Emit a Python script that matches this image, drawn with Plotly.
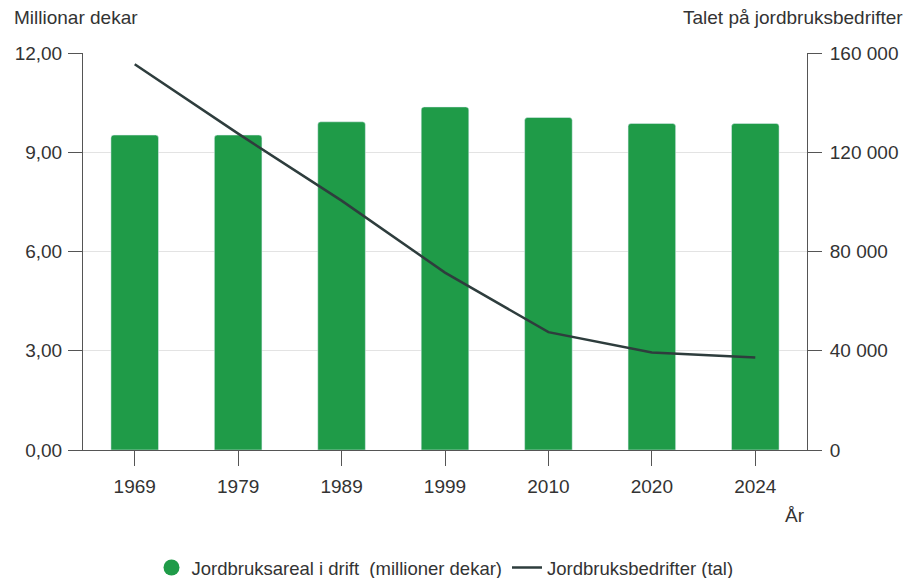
import plotly.graph_objects as go

years = ["1969", "1979", "1989", "1999", "2010", "2020", "2024"]
areal = [9.52, 9.52, 9.92, 10.37, 10.05, 9.87, 9.87]
bedrifter = [155500, 127500, 100500, 71500, 47500, 39300, 37300]

left_ticks = [0, 3, 6, 9, 12]
left_labels = ["0,00", "3,00", "6,00", "9,00", "12,00"]
right_ticks = [0, 40000, 80000, 120000, 160000]
right_labels = ["0", "40 000", "80 000", "120 000", "160 000"]

green = "#1f9b48"
dark = "#2e3d3d"
txt = "#333333"
font = "Liberation Sans, Arial, sans-serif"

fig = go.Figure()
fig.add_trace(go.Bar(x=years, y=areal, marker_color=green, showlegend=False,
                     name="Jordbruksareal i drift  (millioner dekar)"))
fig.add_trace(go.Scatter(x=[None], y=[None], mode="markers",
                         marker=dict(symbol="circle", size=18, color=green),
                         name="Jordbruksareal i drift  (millioner dekar)"))
fig.add_trace(go.Scatter(x=years, y=bedrifter, mode="lines", yaxis="y2",
                         line=dict(color=dark, width=2.5),
                         name="Jordbruksbedrifter (tal)"))

PW, PH = 724, 397

fig.update_layout(
    width=915, height=578,
    margin=dict(l=75, r=116, t=45, b=136, autoexpand=False),
    plot_bgcolor="white", paper_bgcolor="white",
    font=dict(family=font, size=19, color=txt),
    bargap=0.54, barcornerradius=3,
    xaxis=dict(type="category", showgrid=False, ticks="outside", ticklen=15,
               tickcolor="#555", showline=True, linecolor="#555", linewidth=1,
               ticklabelstandoff=4,
               tickfont=dict(size=19, color=txt)),
    yaxis=dict(range=[0, 12], tickvals=left_ticks, ticktext=left_labels,
               showgrid=True, gridcolor="#e3e3e3", gridwidth=1,
               showline=True, linecolor="#555", linewidth=1,
               ticks="outside", ticklen=14, tickcolor="#555", zeroline=False,
               ticklabelstandoff=2,
               tickfont=dict(size=19, color=txt)),
    yaxis2=dict(range=[0, 160000], tickvals=right_ticks, ticktext=right_labels,
                overlaying="y", side="right", showgrid=False,
                showline=True, linecolor="#555", linewidth=1,
                ticks="outside", ticklen=14, tickcolor="#555", zeroline=False,
                ticklabelstandoff=4,
                tickfont=dict(size=19, color=txt)),
    legend=dict(orientation="h", x=0.5, xanchor="center", yref="container",
                y=18 / 578, yanchor="middle",
                font=dict(size=18.5, color=txt), itemwidth=30, traceorder="normal"),
    annotations=[
        dict(text="Millionar dekar", xref="paper", yref="paper", x=-71 / PW, y=1 + 35 / PH,
             xanchor="left", yanchor="middle", showarrow=False, font=dict(size=19, color=txt)),
        dict(text="Talet på jordbruksbedrifter", xref="paper", yref="paper", x=1 + 98 / PW, y=1 + 35 / PH,
             xanchor="right", yanchor="middle", showarrow=False, font=dict(size=19, color=txt)),
        dict(text="År", xref="paper", yref="paper", x=1 - 12 / PW, y=-66 / PH,
             xanchor="center", yanchor="middle", showarrow=False, font=dict(size=19, color=txt)),
    ],
)

fig.write_html("out.html")
